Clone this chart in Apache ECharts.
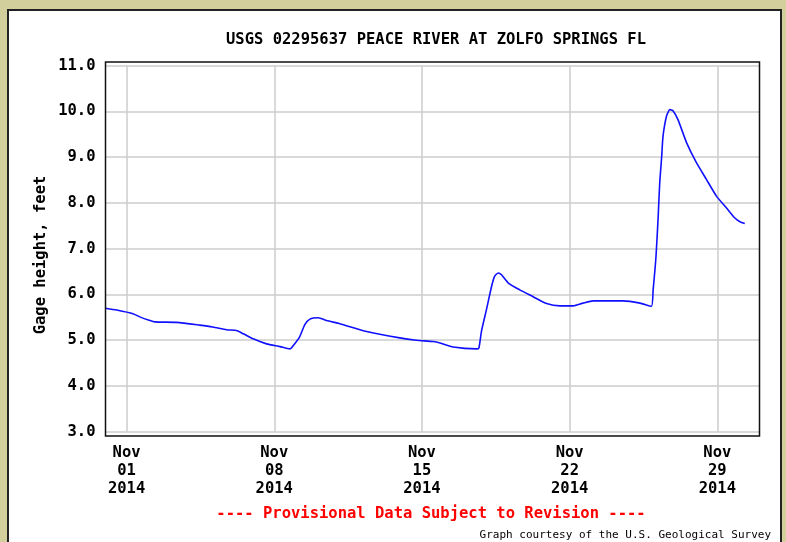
<!DOCTYPE html>
<html>
<head>
<meta charset="utf-8">
<script src="https://cdn.jsdelivr.net/npm/echarts@6/dist/echarts.min.js"></script>
<style>
  html, body { margin: 0; padding: 0; background: #d3cf9c; }
  #main { width: 786px; height: 542px; }
</style>
</head>
<body>
<div id="main"></div>
<script>
  // gage height readings (local time, feet)
  var times = [
    '2014-10-31 00:00', '2014-10-31 12:45', '2014-11-01 07:15', '2014-11-01 15:00',
    '2014-11-02 02:30', '2014-11-02 08:00', '2014-11-03 09:00', '2014-11-04 11:15',
    '2014-11-05 02:00', '2014-11-05 17:45', '2014-11-06 05:00', '2014-11-06 12:45',
    '2014-11-07 00:00', '2014-11-07 15:15', '2014-11-08 06:30', '2014-11-08 17:45',
    '2014-11-08 21:30', '2014-11-09 05:00', '2014-11-09 10:45', '2014-11-09 16:30',
    '2014-11-10 02:00', '2014-11-10 11:30', '2014-11-11 02:45', '2014-11-12 09:00',
    '2014-11-13 22:45', '2014-11-14 17:45', '2014-11-15 12:45', '2014-11-15 20:30',
    '2014-11-16 11:30', '2014-11-17 14:15', '2014-11-17 16:45', '2014-11-17 19:45',
    '2014-11-18 01:30', '2014-11-18 07:15', '2014-11-18 10:45', '2014-11-18 14:45',
    '2014-11-18 18:30', '2014-11-19 02:15', '2014-11-19 15:15', '2014-11-20 06:30',
    '2014-11-20 21:45', '2014-11-21 13:00', '2014-11-22 04:00', '2014-11-22 15:15',
    '2014-11-23 02:45', '2014-11-24 13:00', '2014-11-25 08:00', '2014-11-25 21:00',
    '2014-11-25 23:00', '2014-11-26 02:15', '2014-11-26 04:45', '2014-11-26 06:30',
    '2014-11-26 08:45', '2014-11-26 10:15', '2014-11-26 14:15', '2014-11-26 18:00',
    '2014-11-26 21:45', '2014-11-27 03:15', '2014-11-27 13:00', '2014-11-28 00:15',
    '2014-11-28 11:45', '2014-11-28 23:00', '2014-11-29 10:30', '2014-11-29 20:00',
    '2014-11-30 01:45', '2014-11-30 07:15'
  ];
  var heights = [
    5.70, 5.66, 5.58, 5.51,
    5.43, 5.40, 5.39, 5.33,
    5.29, 5.23, 5.21, 5.14,
    5.03, 4.92, 4.86, 4.81,
    4.88, 5.08, 5.34, 5.46,
    5.49, 5.43, 5.36, 5.19,
    5.05, 5.00, 4.97, 4.94,
    4.85, 4.81, 4.83, 5.20,
    5.68, 6.18, 6.40, 6.47,
    6.43, 6.25, 6.10, 5.95,
    5.80, 5.75, 5.75, 5.81,
    5.86, 5.86, 5.81, 5.74,
    6.10, 6.83, 7.71, 8.44,
    9.02, 9.46, 9.90, 10.04,
    10.01, 9.82, 9.32, 8.88,
    8.51, 8.15, 7.89, 7.67,
    7.59, 7.55
  ];
  // weekly tick dates on the x axis
  var tickDates = ['2014-11-01 00:00', '2014-11-08 00:00', '2014-11-15 00:00', '2014-11-22 00:00', '2014-11-29 00:00'];
  var xStart = '2014-10-31 00:00';
  var xEnd = '2014-12-01 00:00';
  var months = ['Jan', 'Feb', 'Mar', 'Apr', 'May', 'Jun', 'Jul', 'Aug', 'Sep', 'Oct', 'Nov', 'Dec'];

  function toTime(s) {
    return new Date(s.replace(' ', 'T')).getTime();
  }

  var font = 'DejaVu Sans Mono';
  var fs = 15.5;
  var chart = echarts.init(document.getElementById('main'), null, { renderer: 'canvas' });

  var seriesData = [];
  for (var i = 0; i < times.length; i++) {
    seriesData.push([toTime(times[i]), heights[i]]);
  }
  var ticks = tickDates.map(toTime);

  var option = {
    backgroundColor: '#d3cf9c',
    animation: false,
    title: {
      text: 'USGS 02295637 PEACE RIVER AT ZOLFO SPRINGS FL',
      left: 431,
      top: 27,
      textAlign: 'center',
      textStyle: { fontFamily: font, fontWeight: 'bold', fontSize: fs, color: '#000' }
    },
    graphic: [
      { // white panel
        type: 'rect', z: -10,
        shape: { x: 8, y: 10, width: 773, height: 545 },
        style: { fill: '#fff', stroke: '#222', lineWidth: 2 }
      },
      { // plot frame
        type: 'rect', z: 100,
        shape: { x: 105.5, y: 62, width: 654, height: 374 },
        style: { fill: null, stroke: '#111', lineWidth: 1.5 }
      },
      {
        type: 'text', z: 100,
        x: 41, y: 255, rotation: Math.PI / 2,
        style: {
          text: 'Gage height, feet', fontFamily: font, fontWeight: 'bold', fontSize: fs,
          fill: '#000', align: 'center', verticalAlign: 'middle'
        }
      },
      {
        type: 'text', z: 100,
        x: 431, y: 514,
        style: {
          text: '---- Provisional Data Subject to Revision ----', fontFamily: font, fontWeight: 'bold',
          fontSize: fs, fill: '#ff0000', align: 'center', verticalAlign: 'middle'
        }
      },
      {
        type: 'text', z: 100,
        x: 771, y: 535,
        style: {
          text: 'Graph courtesy of the U.S. Geological Survey', fontFamily: font, fontSize: 11,
          fill: '#000', align: 'right', verticalAlign: 'middle'
        }
      }
    ],
    grid: {
      left: 105.5,
      right: 26.5,
      top: 65.7,
      height: 366
    },
    xAxis: {
      type: 'value',
      min: toTime(xStart),
      max: toTime(xEnd),
      axisLine: { show: false },
      axisTick: { show: false, customValues: ticks },
      splitLine: { show: true, lineStyle: { color: '#cccccc', width: 1.5 } },
      axisLabel: {
        customValues: ticks,
        margin: 12,
        fontFamily: font, fontWeight: 'bold', fontSize: fs, color: '#000',
        lineHeight: 18,
        hideOverlap: false,
        formatter: function (v) {
          var d = new Date(v);
          var dd = d.getDate();
          return months[d.getMonth()] + '\n' + (dd < 10 ? '0' + dd : dd) + '\n' + d.getFullYear();
        }
      }
    },
    yAxis: {
      type: 'value',
      min: 3,
      max: 11,
      interval: 1,
      axisLine: { show: false },
      axisTick: { show: false },
      splitLine: { show: true, lineStyle: { color: '#cccccc', width: 1.5 } },
      axisLabel: {
        margin: 10,
        fontFamily: font, fontWeight: 'bold', fontSize: fs, color: '#000',
        formatter: function (v) { return v.toFixed(1); }
      }
    },
    series: [{
      type: 'line',
      data: seriesData,
      showSymbol: false,
      smooth: 0.2,
      lineStyle: { color: '#1010ff', width: 1.6 },
      z: 5
    }]
  };
  chart.setOption(option);
</script>
</body>
</html>
